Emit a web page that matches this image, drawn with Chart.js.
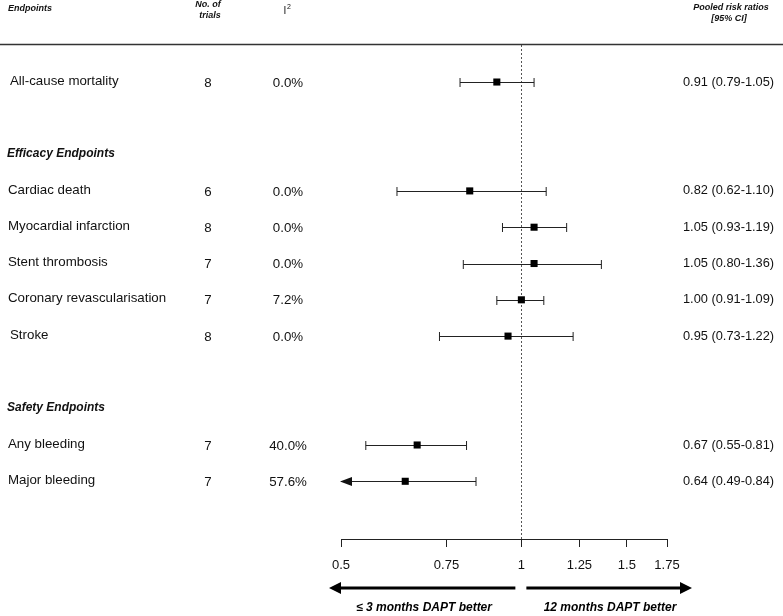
<!DOCTYPE html>
<html>
<head>
<meta charset="utf-8">
<script src="https://cdn.jsdelivr.net/npm/chart.js@4.4.1/dist/chart.umd.min.js"></script>
<style>
  html, body { margin: 0; padding: 0; background: #fff; }
  .chart-box { width: 783px; height: 616px; position: relative; }
</style>
</head>
<body>
<div class="chart-box"><canvas id="forest"></canvas></div>
<script>
// ***** data
const endpoints = ['All-cause mortality', 'Cardiac death', 'Myocardial infarction', 'Stent thrombosis',
  'Coronary revascularisation', 'Stroke', 'Any bleeding', 'Major bleeding'];
const rowIndex = [0, 3, 4, 5, 6, 7, 10, 11];
const trials = ['8', '6', '8', '7', '7', '8', '7', '7'];
const heterogeneity = ['0.0%', '0.0%', '0.0%', '0.0%', '7.2%', '0.0%', '40.0%', '57.6%'];
const riskRatio = [0.91, 0.82, 1.05, 1.05, 1.00, 0.95, 0.67, 0.64];
const lowerCI = [0.79, 0.62, 0.93, 0.80, 0.91, 0.73, 0.55, 0.49];
const upperCI = [1.05, 1.10, 1.19, 1.36, 1.09, 1.22, 0.81, 0.84];
const ciText = ['0.91 (0.79-1.05)', '0.82 (0.62-1.10)', '1.05 (0.93-1.19)', '1.05 (0.80-1.36)',
  '1.00 (0.91-1.09)', '0.95 (0.73-1.22)', '0.67 (0.55-0.81)', '0.64 (0.49-0.84)'];
const sectionTitles = ['Efficacy Endpoints', 'Safety Endpoints'];
const sectionRows = [2, 9];
const xTicks = [0.5, 0.75, 1, 1.25, 1.5, 1.75];

const FONT = '"Liberation Sans", Arial, Helvetica, sans-serif';

// ***** whiskers, reference line and all the table text
const forestPlugin = {
  id: 'forest',
  beforeDatasetsDraw(chart) {
    const { ctx, chartArea, scales: { x, y } } = chart;
    ctx.save();
    // dotted line of no effect
    ctx.strokeStyle = '#555';
    ctx.lineWidth = 1;
    ctx.setLineDash([2, 2]);
    const x1 = Math.round(x.getPixelForValue(1)) + 0.5;
    ctx.beginPath();
    ctx.moveTo(x1, chartArea.top);
    ctx.lineTo(x1, chartArea.bottom);
    ctx.stroke();
    ctx.setLineDash([]);

    // confidence intervals
    ctx.strokeStyle = '#222';
    ctx.fillStyle = '#111';
    endpoints.forEach((_, i) => {
      const py = Math.round(y.getPixelForValue(rowIndex[i])) + 0.5;
      const clipped = lowerCI[i] < x.min;
      const lx = x.getPixelForValue(Math.max(lowerCI[i], x.min));
      const hx = x.getPixelForValue(upperCI[i]);
      ctx.beginPath();
      ctx.moveTo(lx, py);
      ctx.lineTo(hx, py);
      ctx.moveTo(hx, py - 4.5);
      ctx.lineTo(hx, py + 4.5);
      if (!clipped) {
        ctx.moveTo(lx, py - 4.5);
        ctx.lineTo(lx, py + 4.5);
      }
      ctx.stroke();
      if (clipped) {
        ctx.beginPath();
        ctx.moveTo(lx - 1, py);
        ctx.lineTo(lx + 11, py - 4.5);
        ctx.lineTo(lx + 11, py + 4.5);
        ctx.closePath();
        ctx.fill();
      }
    });
    ctx.restore();
  },
  afterDraw(chart) {
    const { ctx, chartArea, scales: { x, y } } = chart;
    ctx.save();
    ctx.fillStyle = '#111';
    ctx.textBaseline = 'middle';

    // column headers
    ctx.font = 'italic bold 9px ' + FONT;
    ctx.textAlign = 'left';
    ctx.fillText('Endpoints', 8, 9);
    ctx.textAlign = 'center';
    ctx.fillText('No. of', 208, 5);
    ctx.fillText('trials', 210, 16);
    ctx.fillText('Pooled risk ratios', 731, 8);
    ctx.fillText('[95% CI]', 729, 19);
    ctx.font = '10px ' + FONT;
    ctx.fillText('I', 285, 11);
    ctx.font = '7px ' + FONT;
    ctx.fillText('2', 289, 7);

    // header rule
    ctx.strokeStyle = '#333';
    ctx.lineWidth = 1.5;
    ctx.beginPath();
    ctx.moveTo(0, 44.5);
    ctx.lineTo(783, 44.5);
    ctx.stroke();

    // section titles
    ctx.font = 'italic bold 12px ' + FONT;
    ctx.textAlign = 'left';
    sectionTitles.forEach((t, i) => {
      ctx.fillText(t, 7, y.getPixelForValue(sectionRows[i]) - 1);
    });

    // rows
    endpoints.forEach((name, i) => {
      const py = y.getPixelForValue(rowIndex[i]);
      ctx.font = '13.3px ' + FONT;
      ctx.textAlign = 'left';
      ctx.fillText(name, (i === 0 || i === 5) ? 10 : 8, py - 1);
      ctx.textAlign = 'center';
      ctx.fillText(trials[i], 208, py + 1);
      ctx.fillText(heterogeneity[i], 288, py + 1);
      ctx.font = '12.8px ' + FONT;
      ctx.textAlign = 'left';
      ctx.fillText(ciText[i], 683, py);
    });

    // direction arrows under the axis
    const x1 = x.getPixelForValue(1);
    const ay = 588;
    ctx.strokeStyle = '#000';
    ctx.fillStyle = '#000';
    ctx.lineWidth = 3;
    ctx.beginPath();
    ctx.moveTo(x1 - 6, ay);
    ctx.lineTo(chartArea.left - 2, ay);
    ctx.moveTo(x1 + 5, ay);
    ctx.lineTo(chartArea.right + 14, ay);
    ctx.stroke();
    ctx.beginPath();
    ctx.moveTo(chartArea.left - 12, ay);
    ctx.lineTo(chartArea.left, ay - 6);
    ctx.lineTo(chartArea.left, ay + 6);
    ctx.closePath();
    ctx.fill();
    ctx.beginPath();
    ctx.moveTo(chartArea.right + 25, ay);
    ctx.lineTo(chartArea.right + 13, ay - 6);
    ctx.lineTo(chartArea.right + 13, ay + 6);
    ctx.closePath();
    ctx.fill();

    ctx.font = 'italic bold 12px ' + FONT;
    ctx.textAlign = 'center';
    ctx.fillText('\u2264 3 months DAPT better', 424, 608);
    ctx.fillText('12 months DAPT better', 610, 608);
    ctx.restore();
  },
};

const ctx = document.getElementById('forest').getContext('2d');

const chart = new Chart(ctx, {
  type: 'scatter',
  data: {
    datasets: [
      {
        data: riskRatio.map((v, i) => ({ x: v, y: rowIndex[i] })),
        pointStyle: 'rect',
        pointRadius: 5,
        pointHoverRadius: 5,
        backgroundColor: '#000',
        borderWidth: 0,
      },
    ],
  },
  options: {
    responsive: true,
    maintainAspectRatio: false,
    animation: false,
    layout: {
      padding: { top: 45, left: 341, right: 116, bottom: 47 },
    },
    plugins: {
      legend: { display: false },
      tooltip: { enabled: false },
    },
    scales: {
      x: {
        type: 'logarithmic',
        min: 0.5,
        max: 1.75,
        afterBuildTicks: scale => {
          scale.ticks = xTicks.map(v => ({ value: v }));
        },
        afterFit: scale => {
          scale.height = 30;
        },
        border: { display: true, color: '#222', width: 1 },
        grid: {
          drawOnChartArea: false,
          drawTicks: true,
          tickLength: 8,
          color: '#222',
        },
        ticks: {
          autoSkip: false,
          maxRotation: 0,
          minRotation: 0,
          padding: 11,
          color: '#111',
          font: { family: FONT, size: 13 },
          callback: v => String(v),
        },
      },
      y: {
        type: 'linear',
        display: false,
        reverse: true,
        min: -1.02,
        max: 12.59,
      },
    },
  },
  plugins: [forestPlugin],
});
</script>
</body>
</html>
